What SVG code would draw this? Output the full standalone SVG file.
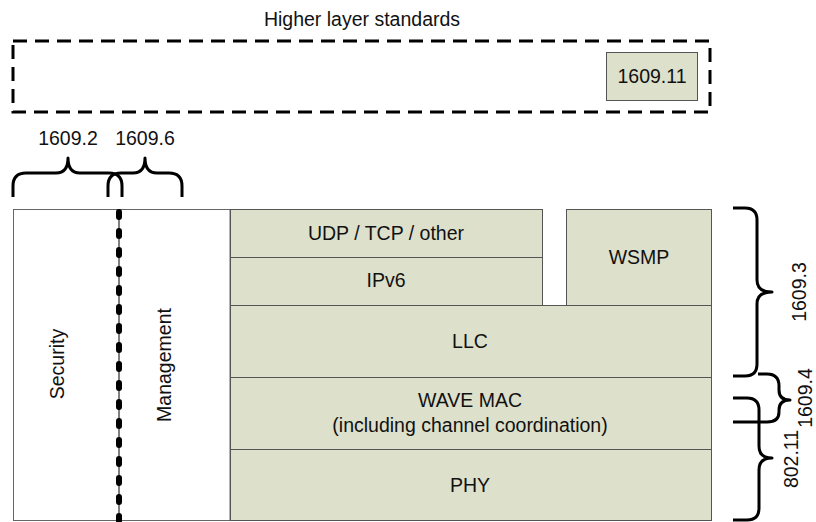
<svg xmlns="http://www.w3.org/2000/svg" width="816" height="522" viewBox="0 0 816 522">
<style>
text{font-family:"Liberation Sans",Arial,sans-serif;font-size:19.5px;fill:#111;}
.c{text-anchor:middle;}
.box{fill:#dde0cb;stroke:#555;stroke-width:1;}
.wbox{fill:#fff;stroke:#666;stroke-width:1;}
.brace{fill:none;stroke:#000;stroke-width:3;stroke-linejoin:round;}
</style>
<rect width="816" height="522" fill="#fff"/>
<g id="higher">
<rect x="13" y="41" width="697" height="71" fill="none" stroke="#000" stroke-width="3" stroke-dasharray="14 8"/>
<text class="c" x="362" y="26">Higher layer standards</text>
</g>
<g id="n1609_11">
<rect class="box" x="606.5" y="52.5" width="91" height="48"/>
<text class="c" x="652" y="83">1609.11</text>
</g>
<g id="left">
<rect class="wbox" x="13.5" y="209.5" width="216.5" height="311"/>
<text class="c" transform="rotate(-90 64 364)" x="64" y="364">Security</text>
<text class="c" transform="rotate(-90 171 365)" x="171" y="365">Management</text>
</g>
<g id="udp">
<rect class="box" x="230.5" y="209.5" width="312" height="48"/>
<text class="c" x="386" y="240">UDP / TCP / other</text>
</g>
<g id="ipv6">
<rect class="box" x="230.5" y="257.5" width="312" height="48"/>
<text class="c" x="386" y="287">IPv6</text>
</g>
<g id="wsmp">
<rect class="box" x="566.5" y="209.5" width="145" height="96"/>
<text class="c" x="639" y="264">WSMP</text>
</g>
<g id="llc">
<rect class="box" x="230.5" y="305.5" width="481" height="72"/>
<text class="c" x="470" y="348">LLC</text>
</g>
<g id="mac">
<rect class="box" x="230.5" y="377.5" width="481" height="72"/>
<text class="c" x="470" y="407">WAVE MAC</text>
<text class="c" x="470" y="432">(including channel coordination)</text>
</g>
<g id="phy">
<rect class="box" x="230.5" y="449.5" width="481" height="71"/>
<text class="c" x="470" y="492">PHY</text>
</g>
<g id="connectors">
<line x1="119" y1="209" x2="119" y2="522" stroke="#000" stroke-width="1"/>
<line x1="119" y1="212" x2="119" y2="522" stroke="#000" stroke-width="6" stroke-linecap="round" stroke-dasharray="5 14"/>
<path class="brace" d="M13,197 V186 Q13,173 26,173 H56 Q68,173 68,158 Q68,173 80,173 H109 Q122,173 122,186 V197"/>
<path class="brace" d="M108,197 V186 Q108,173 121,173 H133 Q145,173 145,158 Q145,173 157,173 H169 Q182,173 182,186 V197"/>
<path class="brace" d="M733,208 H745 Q757,208 757,220 V280 Q757,292 772,292 Q757,292 757,304 V364 Q757,376 745,376 H733"/>
<path class="brace" d="M758,374 H767 Q779,374 779,386 V390 Q779,400 790,400 Q779,400 779,410 V412 Q779,422 767,422 H733"/>
<path class="brace" d="M733,398 H747 Q759,398 759,410 V446 Q759,458 772,458 Q759,458 759,470 V508 Q759,520 747,520 H733"/>
</g>
<g id="labels">
<text class="c" x="68" y="145">1609.2</text>
<text class="c" x="145" y="145">1609.6</text>
<text class="c" transform="rotate(-90 806 292)" x="806" y="292">1609.3</text>
<text class="c" transform="rotate(-90 812 398)" x="812" y="398">1609.4</text>
<text class="c" transform="rotate(-90 798 459)" x="798" y="459">802.11</text>
</g>
</svg>
